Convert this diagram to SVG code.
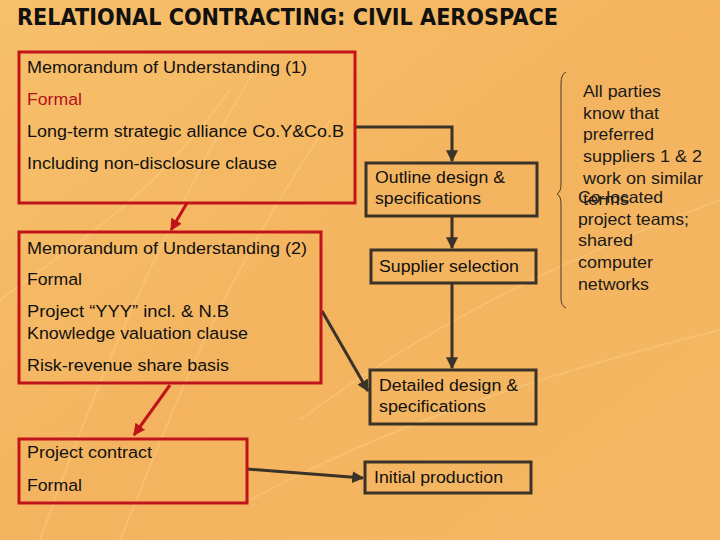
<svg xmlns="http://www.w3.org/2000/svg" width="720" height="540" viewBox="0 0 720 540">
<defs>
<linearGradient id="bg" x1="0" y1="0" x2="1" y2="1">
<stop offset="0" stop-color="#f7c06c"/>
<stop offset="0.5" stop-color="#f4b45f"/>
<stop offset="1" stop-color="#f5b763"/>
</linearGradient>
<marker id="ad" viewBox="0 0 10 10" refX="9" refY="5" markerWidth="4" markerHeight="4" orient="auto" markerUnits="strokeWidth">
<path d="M0,0 L10,5 L0,10 z" fill="#3a3328"/>
</marker>
<marker id="ar" viewBox="0 0 10 10" refX="9" refY="5" markerWidth="4" markerHeight="4" orient="auto" markerUnits="strokeWidth">
<path d="M0,0 L10,5 L0,10 z" fill="#c0141a"/>
</marker>
</defs>
<style>
.t{font-family:"Liberation Sans",Arial,sans-serif;font-size:16.3px;fill:#111}
.red{fill:#b3111a}
.rb{fill:none;stroke:#c0141a;stroke-width:3}
.db{fill:none;stroke:#3a3328;stroke-width:3}
.dc{fill:none;stroke:#3a3328;stroke-width:3;marker-end:url(#ad)}
.rc{fill:none;stroke:#c0141a;stroke-width:3;marker-end:url(#ar)}
.side{font-family:"Liberation Sans",Arial,sans-serif;font-size:16.5px;fill:#1a1a1a}
</style>
<rect width="720" height="540" fill="url(#bg)"/>
<g opacity="0.18" stroke="#fff3c0" fill="none" stroke-width="2">
<path d="M40,540 C90,400 150,250 260,60"/>
<path d="M120,540 C170,420 210,300 330,120"/>
<path d="M0,300 C80,240 150,200 230,90"/>
<path d="M300,420 C420,330 560,260 720,200"/>
<path d="M250,500 C380,430 520,380 720,330"/>
</g>
<text x="17" y="25" font-family="'DejaVu Sans',Verdana,sans-serif" font-weight="bold" font-size="23" fill="#111" textLength="541" lengthAdjust="spacingAndGlyphs">RELATIONAL CONTRACTING: CIVIL AEROSPACE</text>

<g id="connectors">
<path class="rc" d="M187,203 L171,230"/>
<path class="rc" d="M170,385 L134,435"/>
<path class="dc" d="M355,127 L452,127 L452,161"/>
<path class="dc" d="M452,216 L452,248"/>
<path class="dc" d="M452,283 L452,368"/>
<path class="dc" d="M322,311 L368,391"/>
<path class="dc" d="M247,469 L363,478"/>
</g>

<g id="mou1">
<rect class="rb" x="19" y="52" width="336" height="151"/>
<text class="t" x="27" y="73" textLength="280" lengthAdjust="spacingAndGlyphs">Memorandum of Understanding (1)</text>
<text class="t red" x="27" y="105" textLength="55" lengthAdjust="spacingAndGlyphs">Formal</text>
<text class="t" x="27" y="137" textLength="317" lengthAdjust="spacingAndGlyphs">Long-term strategic alliance Co.Y&amp;Co.B</text>
<text class="t" x="27" y="169" textLength="250" lengthAdjust="spacingAndGlyphs">Including non-disclosure clause</text>
</g>

<g id="mou2">
<rect class="rb" x="19" y="232" width="302" height="151"/>
<text class="t" x="27" y="254" textLength="280" lengthAdjust="spacingAndGlyphs">Memorandum of Understanding (2)</text>
<text class="t" x="27" y="285" textLength="55" lengthAdjust="spacingAndGlyphs">Formal</text>
<text class="t" x="27" y="317" textLength="202" lengthAdjust="spacingAndGlyphs">Project “YYY” incl. &amp;  N.B</text>
<text class="t" x="27" y="339" textLength="221" lengthAdjust="spacingAndGlyphs">Knowledge valuation clause</text>
<text class="t" x="27" y="371" textLength="202" lengthAdjust="spacingAndGlyphs">Risk-revenue share basis</text>
</g>

<g id="contract">
<rect class="rb" x="19" y="439" width="228" height="64"/>
<text class="t" x="27" y="458" textLength="125" lengthAdjust="spacingAndGlyphs">Project contract</text>
<text class="t" x="27" y="491" textLength="55" lengthAdjust="spacingAndGlyphs">Formal</text>
</g>

<g id="outline">
<rect class="db" x="366" y="163" width="171" height="53"/>
<text class="t" x="375" y="183" textLength="130" lengthAdjust="spacingAndGlyphs">Outline design &amp;</text>
<text class="t" x="375" y="204" textLength="106" lengthAdjust="spacingAndGlyphs">specifications</text>
</g>

<g id="supplier">
<rect class="db" x="371" y="250" width="165" height="33"/>
<text class="t" x="379" y="272" textLength="140" lengthAdjust="spacingAndGlyphs">Supplier selection</text>
</g>

<g id="detailed">
<rect class="db" x="370" y="370" width="166" height="54"/>
<text class="t" x="379" y="391" textLength="139" lengthAdjust="spacingAndGlyphs">Detailed design &amp;</text>
<text class="t" x="379" y="412" textLength="107" lengthAdjust="spacingAndGlyphs">specifications</text>
</g>

<g id="initial">
<rect class="db" x="365" y="462" width="166" height="31"/>
<text class="t" x="374" y="483" textLength="129" lengthAdjust="spacingAndGlyphs">Initial production</text>
</g>

<g id="note">
<path d="M566,72 Q561,74 561,84 L561,184 Q561,192 557,194 Q561,196 561,204 L561,298 Q561,306 566,308" fill="none" stroke="#4a3a28" stroke-width="1"/>
<text class="side" x="583" y="97" textLength="78" lengthAdjust="spacingAndGlyphs">All parties</text>
<text class="side" x="583" y="119" textLength="76" lengthAdjust="spacingAndGlyphs">know that</text>
<text class="side" x="583" y="140" textLength="71" lengthAdjust="spacingAndGlyphs">preferred</text>
<text class="side" x="583" y="162" textLength="119" lengthAdjust="spacingAndGlyphs">suppliers 1 &amp; 2</text>
<text class="side" x="583" y="184" textLength="120" lengthAdjust="spacingAndGlyphs">work on similar</text>
<text class="side" x="583" y="205" textLength="46" lengthAdjust="spacingAndGlyphs">terms</text>
<text class="side" x="578" y="203" textLength="85" lengthAdjust="spacingAndGlyphs">Co-located</text>
<text class="side" x="578" y="225" textLength="111" lengthAdjust="spacingAndGlyphs">project teams;</text>
<text class="side" x="578" y="246" textLength="55" lengthAdjust="spacingAndGlyphs">shared</text>
<text class="side" x="578" y="268" textLength="75" lengthAdjust="spacingAndGlyphs">computer</text>
<text class="side" x="578" y="290" textLength="71" lengthAdjust="spacingAndGlyphs">networks</text>
</g>
</svg>
